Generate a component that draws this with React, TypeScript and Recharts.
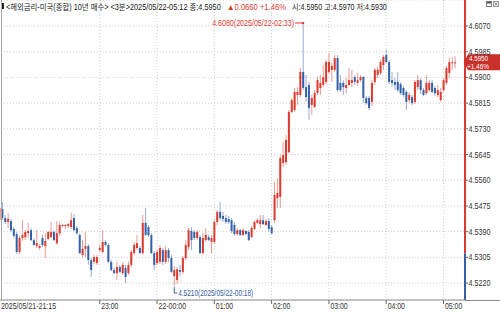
import React, { useLayoutEffect, useRef, useState } from 'react'
import {
  ComposedChart,
  Bar,
  XAxis,
  YAxis,
  CartesianGrid,
  ReferenceLine,
  ReferenceDot
} from 'recharts'

// 3-minute candles, 2025/05/21 21:15 -> 2025/05/22 05:12
const opens = [
  4.5428, 4.5465, 4.5435, 4.5422, 4.5425, 4.5399, 4.5382, 4.5323, 4.5369, 4.5372,
  4.5385, 4.5395, 4.5362, 4.5342, 4.5336, 4.5369, 4.5342, 4.5366, 4.5372, 4.5389,
  4.5352, 4.5385, 4.5409, 4.5409, 4.5409, 4.5405, 4.5435, 4.5402, 4.5379, 4.5313,
  4.5333, 4.5342, 4.5296, 4.5290, 4.5286, 4.5329, 4.5323, 4.5356, 4.5346, 4.5290,
  4.5263, 4.5253, 4.5273, 4.5253, 4.5270, 4.5253, 4.5280, 4.5319, 4.5336, 4.5336,
  4.5319, 4.5419, 4.5405, 4.5379, 4.5319, 4.5286, 4.5290, 4.5329, 4.5290, 4.5329,
  4.5303, 4.5243, 4.5230, 4.5263, 4.5257, 4.5303, 4.5339, 4.5392, 4.5389, 4.5369,
  4.5372, 4.5319, 4.5362, 4.5372, 4.5356, 4.5356, 4.5422, 4.5455, 4.5442, 4.5435,
  4.5432, 4.5428, 4.5412, 4.5382, 4.5395, 4.5379, 4.5392, 4.5389, 4.5372, 4.5399,
  4.5419, 4.5415, 4.5428, 4.5412, 4.5425, 4.5405, 4.5428, 4.5501, 4.5505, 4.5617,
  4.5620, 4.5653, 4.5786, 4.5792, 4.5842, 4.5842, 4.5918, 4.5868, 4.5875, 4.5809,
  4.5802, 4.5848, 4.5865, 4.5875, 4.5885, 4.5918, 4.5925, 4.5925, 4.5964, 4.5882,
  4.5882, 4.5865, 4.5875, 4.5882, 4.5901, 4.5882, 4.5891, 4.5901, 4.5832, 4.5832,
  4.5819, 4.5885, 4.5908, 4.5915, 4.5941, 4.5974, 4.5951, 4.5891, 4.5885, 4.5885,
  4.5878, 4.5865, 4.5852, 4.5825, 4.5835, 4.5819, 4.5868, 4.5891, 4.5858, 4.5848,
  4.5858, 4.5882, 4.5865, 4.5842, 4.5825, 4.5858, 4.5882, 4.5915, 4.5950, 4.5950
]
const highs = [
  4.5485, 4.5488, 4.5445, 4.5452, 4.5432, 4.5405, 4.5389, 4.5376, 4.5428, 4.5395,
  4.5419, 4.5402, 4.5369, 4.5395, 4.5349, 4.5379, 4.5385, 4.5392, 4.5422, 4.5395,
  4.5425, 4.5422, 4.5415, 4.5415, 4.5419, 4.5452, 4.5448, 4.5409, 4.5385, 4.5362,
  4.5389, 4.5349, 4.5303, 4.5313, 4.5313, 4.5346, 4.5395, 4.5362, 4.5352, 4.5296,
  4.5270, 4.5290, 4.5280, 4.5290, 4.5280, 4.5290, 4.5329, 4.5356, 4.5379, 4.5342,
  4.5445, 4.5468, 4.5412, 4.5385, 4.5326, 4.5329, 4.5346, 4.5336, 4.5342, 4.5336,
  4.5313, 4.5276, 4.5273, 4.5280, 4.5309, 4.5362, 4.5402, 4.5405, 4.5395, 4.5395,
  4.5379, 4.5385, 4.5402, 4.5379, 4.5379, 4.5428, 4.5462, 4.5488, 4.5455, 4.5445,
  4.5442, 4.5435, 4.5422, 4.5402, 4.5399, 4.5402, 4.5395, 4.5395, 4.5409, 4.5428,
  4.5435, 4.5445, 4.5445, 4.5432, 4.5435, 4.5412, 4.5554, 4.5567, 4.5643, 4.5686,
  4.5710, 4.5792, 4.5832, 4.5865, 4.5868, 4.5931, 4.6080, 4.5908, 4.5885, 4.5842,
  4.5858, 4.5901, 4.5908, 4.5941, 4.5958, 4.5981, 4.5948, 4.5974, 4.5974, 4.5908,
  4.5891, 4.5901, 4.5931, 4.5925, 4.5908, 4.5915, 4.5908, 4.5905, 4.5839, 4.5839,
  4.5891, 4.5931, 4.5934, 4.5958, 4.5974, 4.5991, 4.5958, 4.5918, 4.5898, 4.5918,
  4.5885, 4.5872, 4.5858, 4.5852, 4.5842, 4.5891, 4.5908, 4.5898, 4.5865, 4.5908,
  4.5891, 4.5891, 4.5872, 4.5875, 4.5865, 4.5898, 4.5938, 4.5964, 4.5968, 4.5970
]
const lows = [
  4.5422, 4.5428, 4.5415, 4.5402, 4.5389, 4.5369, 4.5316, 4.5316, 4.5359, 4.5362,
  4.5369, 4.5359, 4.5342, 4.5336, 4.5329, 4.5339, 4.5303, 4.5362, 4.5369, 4.5359,
  4.5346, 4.5376, 4.5405, 4.5399, 4.5402, 4.5399, 4.5392, 4.5379, 4.5316, 4.5303,
  4.5306, 4.5280, 4.5240, 4.5283, 4.5280, 4.5323, 4.5319, 4.5342, 4.5286, 4.5260,
  4.5250, 4.5230, 4.5253, 4.5247, 4.5220, 4.5247, 4.5273, 4.5313, 4.5329, 4.5316,
  4.5313, 4.5376, 4.5372, 4.5316, 4.5263, 4.5280, 4.5283, 4.5280, 4.5283, 4.5290,
  4.5253, 4.5210, 4.5217, 4.5243, 4.5250, 4.5296, 4.5329, 4.5329, 4.5362, 4.5362,
  4.5316, 4.5313, 4.5356, 4.5359, 4.5319, 4.5349, 4.5412, 4.5428, 4.5422, 4.5415,
  4.5415, 4.5385, 4.5376, 4.5376, 4.5376, 4.5376, 4.5379, 4.5359, 4.5369, 4.5395,
  4.5415, 4.5402, 4.5412, 4.5409, 4.5389, 4.5379, 4.5419, 4.5468, 4.5468, 4.5604,
  4.5610, 4.5650, 4.5782, 4.5786, 4.5809, 4.5835, 4.5858, 4.5819, 4.5759, 4.5776,
  4.5799, 4.5842, 4.5842, 4.5868, 4.5878, 4.5911, 4.5885, 4.5918, 4.5852, 4.5852,
  4.5842, 4.5848, 4.5872, 4.5868, 4.5875, 4.5872, 4.5885, 4.5815, 4.5809, 4.5792,
  4.5805, 4.5875, 4.5898, 4.5908, 4.5925, 4.5948, 4.5878, 4.5868, 4.5858, 4.5852,
  4.5842, 4.5835, 4.5792, 4.5815, 4.5809, 4.5812, 4.5858, 4.5845, 4.5839, 4.5842,
  4.5852, 4.5848, 4.5839, 4.5835, 4.5819, 4.5852, 4.5875, 4.5898, 4.5925, 4.5930
]
const closes = [
  4.5468, 4.5435, 4.5422, 4.5432, 4.5395, 4.5376, 4.5323, 4.5369, 4.5379, 4.5389,
  4.5392, 4.5362, 4.5346, 4.5352, 4.5342, 4.5346, 4.5359, 4.5389, 4.5389, 4.5362,
  4.5385, 4.5412, 4.5412, 4.5412, 4.5415, 4.5428, 4.5395, 4.5385, 4.5319, 4.5333,
  4.5342, 4.5296, 4.5263, 4.5306, 4.5306, 4.5336, 4.5356, 4.5346, 4.5290, 4.5263,
  4.5253, 4.5273, 4.5257, 4.5280, 4.5240, 4.5280, 4.5323, 4.5346, 4.5352, 4.5319,
  4.5419, 4.5379, 4.5379, 4.5319, 4.5280, 4.5323, 4.5336, 4.5290, 4.5329, 4.5303,
  4.5257, 4.5263, 4.5266, 4.5257, 4.5303, 4.5346, 4.5395, 4.5362, 4.5369, 4.5389,
  4.5319, 4.5369, 4.5379, 4.5362, 4.5369, 4.5422, 4.5455, 4.5435, 4.5432, 4.5422,
  4.5422, 4.5392, 4.5382, 4.5395, 4.5379, 4.5395, 4.5382, 4.5362, 4.5402, 4.5422,
  4.5428, 4.5428, 4.5415, 4.5425, 4.5399, 4.5385, 4.5511, 4.5518, 4.5633, 4.5643,
  4.5693, 4.5786, 4.5825, 4.5852, 4.5852, 4.5918, 4.5865, 4.5835, 4.5799, 4.5832,
  4.5848, 4.5891, 4.5882, 4.5901, 4.5951, 4.5951, 4.5938, 4.5964, 4.5858, 4.5858,
  4.5868, 4.5875, 4.5891, 4.5891, 4.5885, 4.5891, 4.5901, 4.5832, 4.5815, 4.5799,
  4.5882, 4.5925, 4.5925, 4.5951, 4.5968, 4.5951, 4.5885, 4.5882, 4.5875, 4.5858,
  4.5848, 4.5842, 4.5819, 4.5842, 4.5815, 4.5885, 4.5891, 4.5858, 4.5842, 4.5882,
  4.5882, 4.5852, 4.5848, 4.5858, 4.5852, 4.5891, 4.5931, 4.5951, 4.5950, 4.5950
]

const startMinutes = 21 * 60 + 15
const stepMinutes = 3
const emptySlots = 3 // blank time slots the chart keeps to the right of the last candle

const tickTimes = ['21:15', '23:00', '00:00', '01:00', '02:00', '03:00', '04:00', '05:00']
const tickLabels = ['2025/05/21-21:15', '23:00', '22-00:00', '01:00', '02:00', '03:00', '04:00', '05:00']
const priceTicks = [4.522, 4.5305, 4.539, 4.5475, 4.556, 4.5645, 4.573, 4.5815, 4.59, 4.5985, 4.607]
const priceDomain = [4.5164, 4.6156]
const prevClose = 4.529
const axisSplit = 4.5318

const UP = '#dc3a2e'
const DOWN = '#3461a8'
const UP_WICK = '#e89a92'
const DOWN_WICK = '#97acd2'
const FONT = "'Liberation Sans', 'Noto Sans CJK KR', sans-serif"

const pad = (n: number) => String(n).padStart(2, '0')
const timeAt = (i: number) => {
  const m = (startMinutes + i * stepMinutes) % 1440
  return `${pad(Math.floor(m / 60))}:${pad(m % 60)}`
}
const dateAt = (i: number) => (startMinutes + i * stepMinutes >= 1440 ? '2025/05/22' : '2025/05/21')

const rows: any[] = opens.map((open, i) => ({
  time: timeAt(i),
  open,
  high: highs[i],
  low: lows[i],
  close: closes[i],
  range: [lows[i], highs[i]]
}))
for (let k = 0; k < emptySlots; k++) rows.push({ time: timeAt(opens.length + k) })

const last = opens.length - 1
const edgeTime = rows[rows.length - 1].time
const lastClose = closes[last]
const hiIdx = highs.indexOf(Math.max(...highs))
const loIdx = lows.indexOf(Math.min(...lows))
const change = lastClose - prevClose
const changePct = (change / prevClose) * 100

function Candle(props: any) {
  const { x, y, width, height, payload } = props
  if (x == null || !payload || payload.open == null) return null
  const { open, high, low, close } = payload
  const top = Math.min(y, y + height)
  const h = Math.abs(height)
  const span = high - low
  const py = (v: number) => (span > 0 ? top + ((high - v) / span) * h : top)
  const cx = x + width / 2
  const up = close >= open
  const bTop = py(Math.max(open, close))
  const bBot = py(Math.min(open, close))
  return (
    <g>
      <line x1={cx} x2={cx} y1={top} y2={top + h} stroke={up ? UP_WICK : DOWN_WICK} strokeWidth={1} />
      <rect x={cx - 1} y={bTop} width={2} height={Math.max(bBot - bTop, 1)} fill={up ? UP : DOWN} />
    </g>
  )
}

// squeezes a text to a given width (the original uses a narrow bitmap font)
function FitText({ x, y, width, fill, children }: any) {
  const ref = useRef<SVGTextElement>(null)
  const [sx, setSx] = useState(1)
  useLayoutEffect(() => {
    const w = ref.current ? ref.current.getComputedTextLength() : 0
    if (w > 0) setSx(width / w)
  }, [width, children])
  return (
    <text ref={ref} transform={`translate(${x},${y}) scale(${sx},1)`} fontSize={8.5} fontFamily={FONT} fill={fill}>
      {children}
    </text>
  )
}

function PriceTick({ x, y, payload }: any) {
  return (
    <g>
      <line x1={x} x2={x + 3} y1={y} y2={y} stroke="#666" />
      <text x={x + 3.5} y={y + 3} fontSize={8.5} fontFamily={FONT} fill="#333" textLength={22} lengthAdjust="spacingAndGlyphs">
        {Number(payload.value).toFixed(4)}
      </text>
    </g>
  )
}

function TimeTick({ x, y, payload }: any) {
  const label = tickLabels[tickTimes.indexOf(payload.value)] ?? payload.value
  return (
    <g>
      <line x1={x} x2={x} y1={y} y2={y + 4} stroke="#666" />
      <text x={x + 1.5} y={y + 9} fontSize={8.5} fontFamily={FONT} fill="#333" textLength={label.length * 3.45} lengthAdjust="spacingAndGlyphs">
        {label}
      </text>
    </g>
  )
}

function HighLabel({ cx, cy }: any) {
  const label = `${highs[hiIdx].toFixed(4)}(${dateAt(hiIdx)}-${timeAt(hiIdx)})`
  return (
    <g>
      <line x1={cx - 8} x2={cx} y1={cy} y2={cy} stroke={UP} />
      <rect x={cx - 1} y={cy - 1} width={2} height={2} fill={UP} />
      <text x={cx - 9} y={cy + 3} textAnchor="end" fontSize={8.5} fontFamily={FONT} fill={UP} textLength={82} lengthAdjust="spacingAndGlyphs">
        {label}
      </text>
    </g>
  )
}

function LowLabel({ cx, cy }: any) {
  const label = `${lows[loIdx].toFixed(4)}(${dateAt(loIdx)}-${timeAt(loIdx)})`
  return (
    <g>
      <path d={`M${cx},${cy + 1}V${cy + 7}H${cx + 3}`} stroke={DOWN} fill="none" />
      <text x={cx + 4} y={cy + 10} fontSize={8.5} fontFamily={FONT} fill={DOWN} textLength={75} lengthAdjust="spacingAndGlyphs">
        {label}
      </text>
    </g>
  )
}

function PriceTag(props: any) {
  const cx = props.x1
  const cy = props.y1
  if (cx == null || cy == null) return null
  return (
    <g>
      <polygon points={`${cx - 1},${cy} ${cx + 3},${cy - 8} ${cx + 36},${cy - 8} ${cx + 36},${cy + 8} ${cx + 3},${cy + 8}`} fill="#c8312a" />
      <text x={cx + 4} y={cy - 1} fontSize={8} fontFamily={FONT} fill="#fff" textLength={19} lengthAdjust="spacingAndGlyphs">
        {lastClose.toFixed(4)}
      </text>
      <text x={cx + 2} y={cy + 7} fontSize={8} fontFamily={FONT} fill="#fff" textLength={22} lengthAdjust="spacingAndGlyphs">
        {`+${changePct.toFixed(2)}%`}
      </text>
    </g>
  )
}

export default function App() {
  const title = `<해외금리-미국(종합) 10년 매수> <3분>${dateAt(last)}-${timeAt(last)} 종:${lastClose.toFixed(4)}`
  const delta = `▲${change.toFixed(4)} +${changePct.toFixed(2)}%`
  const ohl = `시:${opens[last].toFixed(4)} 고:${highs[last].toFixed(4)} 저:${lows[last].toFixed(4)}`
  return (
    <div style={{ position: 'absolute', left: 0, top: 0, width: 500, height: 314, background: '#fff', overflow: 'hidden' }}>
      <ComposedChart
        width={500}
        height={314}
        data={rows}
        margin={{ top: 0, right: 0, bottom: 0, left: -2 }}
        barCategoryGap={0}
        barGap={0}
      >
        <CartesianGrid stroke="#cdcdcd" strokeDasharray="1 2" />
        <XAxis
          dataKey="time"
          ticks={tickTimes}
          interval={0}
          height={14}
          tickSize={0}
          tickMargin={0}
          tickLine={false}
          axisLine={{ stroke: '#8c8c8c' }}
          tick={<TimeTick />}
        />
        <YAxis
          orientation="right"
          type="number"
          domain={priceDomain}
          ticks={priceTicks}
          allowDataOverflow
          width={35}
          axisLine={false}
          tickLine={false}
          tickSize={0}
          tickMargin={0}
          tick={<PriceTick />}
        />
        <Bar dataKey="range" shape={<Candle />} isAnimationActive={false} />
        <ReferenceLine
          segment={[{ x: edgeTime, y: priceDomain[1] }, { x: edgeTime, y: axisSplit }]}
          position="end"
          ifOverflow="visible"
          stroke={UP}
          strokeWidth={2}
        />
        <ReferenceLine
          segment={[{ x: edgeTime, y: axisSplit }, { x: edgeTime, y: priceDomain[0] }]}
          position="end"
          ifOverflow="visible"
          stroke={DOWN}
          strokeWidth={2}
        />
        <ReferenceDot x={rows[hiIdx].time} y={highs[hiIdx]} r={1} shape={<HighLabel />} />
        <ReferenceDot x={rows[loIdx].time} y={lows[loIdx]} r={1} shape={<LowLabel />} />
        <ReferenceLine
          segment={[{ x: edgeTime, y: lastClose }, { x: edgeTime, y: lastClose }]}
          position="end"
          ifOverflow="visible"
          shape={<PriceTag />}
        />
      </ComposedChart>
      <svg width={500} height={314} style={{ position: 'absolute', left: 0, top: 0, pointerEvents: 'none' }}>
        <line x1={1.5} x2={1.5} y1={0} y2={300} stroke="#a8a8a8" />
        <line x1={465} x2={500} y1={300.5} y2={300.5} stroke="#8c8c8c" />
        <rect x={2} y={3} width={2} height={6} fill="#222" />
        <FitText x={6} y={9.5} width={215} fill="#222">{title}</FitText>
        <FitText x={227} y={9.5} width={59} fill={UP}>{delta}</FitText>
        <FitText x={292} y={9.5} width={95} fill="#222">{ohl}</FitText>
        <rect x={486.5} y={1.5} width={5} height={5} fill="#fff" stroke="#777" />
        <rect x={487} y={2} width={4} height={1.5} fill="#555" />
        <rect x={493.5} y={1.5} width={5} height={5} fill="#fff" stroke="#999" />
        <path d="M494.5,2.5L497.5,5.5M497.5,2.5L494.5,5.5" stroke="#888" />
      </svg>
    </div>
  )
}
